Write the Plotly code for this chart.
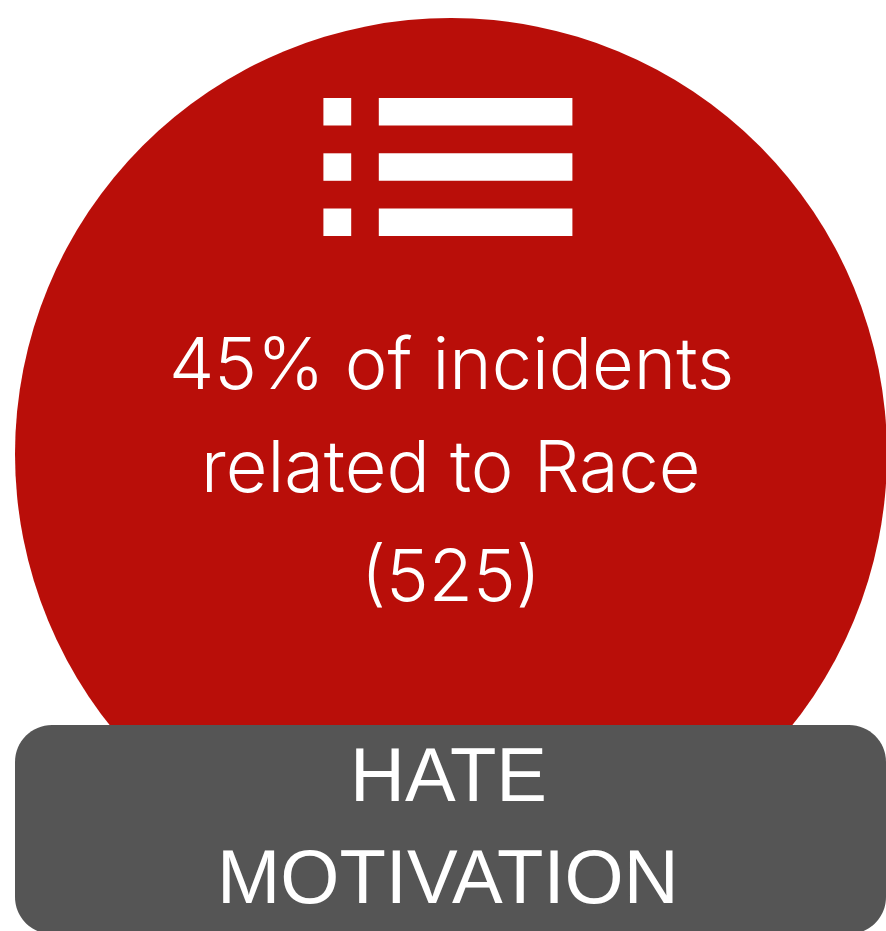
import plotly.graph_objects as go

# Figures stated on the card
SHARE_PERCENT = 45
INCIDENT_COUNT = 525
CATEGORY = "Race"
BANNER_LINES = ["HATE", "MOTIVATION"]

BODY_LINES = [
    f"{SHARE_PERCENT}% of incidents",
    f"related to {CATEGORY}",
    f"({INCIDENT_COUNT})",
]

RED = "#b90e09"
GREY = "#555555"
WHITE = "#ffffff"

W, H = 886, 931


def rounded_rect(x0, y0, x1, y1, r):
    # cubic approximation of circular corners
    k = r * 0.4477
    return (
        f"M{x0 + r},{y0} L{x1 - r},{y0} C{x1 - k},{y0} {x1},{y0 + k} {x1},{y0 + r} "
        f"L{x1},{y1 - r} C{x1},{y1 - k} {x1 - k},{y1} {x1 - r},{y1} "
        f"L{x0 + r},{y1} C{x0 + k},{y1} {x0},{y1 - k} {x0},{y1 - r} "
        f"L{x0},{y0 + r} C{x0},{y0 + k} {x0 + k},{y0} {x0 + r},{y0} Z"
    )


shapes = [
    # disc behind the text
    dict(type="circle", x0=15, x1=887, y0=18, y1=890,
         fillcolor=RED, line_width=0, layer="below"),
    # banner
    dict(type="path", path=rounded_rect(15, 725, 886, 934, 37),
         fillcolor=GREY, line_width=0, layer="below"),
]

# list icon: three rows of bullet + bar
for top in (98, 153.3, 208.5):
    for left, right in ((323.4, 351.2), (378.8, 572.4)):
        shapes.append(dict(type="rect", x0=left, x1=right, y0=top, y1=top + 27.5,
                           fillcolor=WHITE, line_width=0, layer="below"))

annotations = []
for text, y in zip(BODY_LINES, (362, 465, 574)):
    annotations.append(dict(x=451, y=y, text=text, showarrow=False, xanchor="center",
                            yanchor="middle",
                            font=dict(family="Inter", weight=300, size=72, color=WHITE)))
for text, y in zip(BANNER_LINES, (774, 876)):
    annotations.append(dict(x=448, y=y, text=text, showarrow=False, xanchor="center",
                            yanchor="middle",
                            font=dict(family="Liberation Sans", size=76, color=WHITE)))

fig = go.Figure()
fig.update_layout(
    width=W, height=H,
    margin=dict(l=0, r=0, t=0, b=0),
    paper_bgcolor=WHITE, plot_bgcolor=WHITE,
    xaxis=dict(range=[0, W], visible=False, fixedrange=True),
    yaxis=dict(range=[H, 0], visible=False, fixedrange=True),
    shapes=shapes,
    annotations=annotations,
    showlegend=False,
)
fig.write_html("out.html", config=dict(displayModeBar=False))
